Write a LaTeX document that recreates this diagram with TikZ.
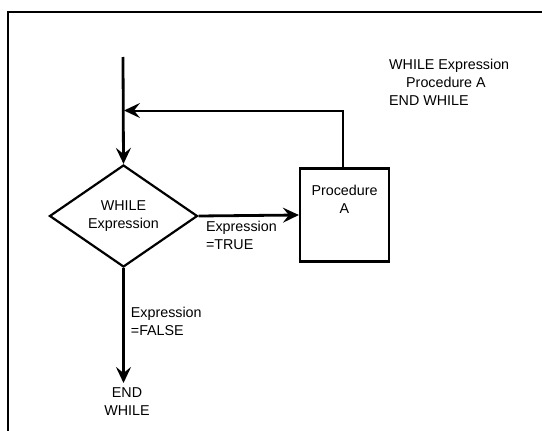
\documentclass[tikz,border=0pt]{standalone}
\usepackage{fontspec}
\setmainfont{Liberation Sans}
\usetikzlibrary{shapes.geometric,arrows.meta}
\begin{document}
\begin{tikzpicture}[x=1pt,y=1pt,
  every node/.style={font=\fontsize{14.3}{18}\selectfont},
  tip/.style={-{Stealth[length=16pt,width=15pt,inset=6pt]}},
  flow/.style={line width=2.8pt,tip},
  back/.style={line width=2pt,tip},
  decision/.style={diamond,draw,line width=2.2pt,minimum width=148pt,minimum height=102pt,inner sep=0pt,align=center},
  process/.style={rectangle,draw,line width=2.2pt,minimum width=89pt,minimum height=93pt,inner sep=0pt,align=center},
  lbl/.style={align=left,inner sep=0pt}]
\useasboundingbox (0,0) rectangle (542,-431);
% frame around the figure
\draw[line width=2pt] (8,-431) -- (8,-12) -- (542,-12);

% pseudocode listing
\node[lbl,anchor=north west] (code) at (389,-59) {WHILE Expression\\\hspace*{17pt}Procedure A\\END WHILE};

% flowchart
\coordinate (start) at (123,-57);
\coordinate (join) at (123,-110.5);
\node[decision] (cond) at (123.5,-216) {WHILE\\Expression};
\node[process] (proc) at (344.5,-215) {Procedure\\A\\[14pt]};
\node[align=center,inner sep=0pt,anchor=north] (endw) at (127,-387) {END\\WHILE};
\coordinate (stop) at (cond.south |- 0,-383);

\draw[flow] (start) -- (cond.north);
\draw[back] ([xshift=-1.5pt]proc.north) |- ([xshift=1pt]join);
\draw[flow] (cond.east) -- node[lbl,anchor=north west,pos=0.06,yshift=-4pt] (tl) {Expression\\=TRUE} (proc.west);
\draw[flow] (cond.south) -- node[lbl,anchor=north west,pos=0.33,xshift=6pt] (fl) {Expression\\=FALSE} (stop);
\end{tikzpicture}
\end{document}
